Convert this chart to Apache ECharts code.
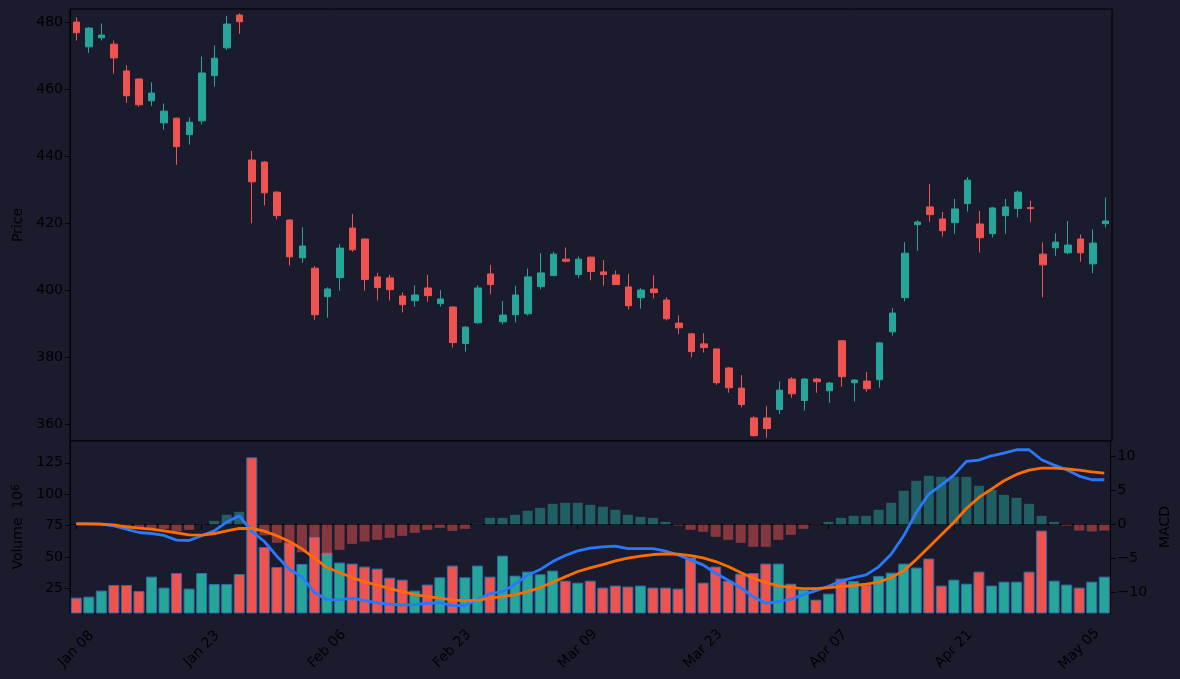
<!DOCTYPE html>
<html>
<head>
<meta charset="utf-8">
<script src="https://cdn.jsdelivr.net/npm/echarts@6/dist/echarts.min.js"></script>
<style>
  html, body { margin: 0; padding: 0; background: #1b1b2e; }
  #chart { width: 1180px; height: 679px; }
</style>
</head>
<body>
<div id="chart"></div>
<script>
'use strict';

var dates = [
    'Jan 08', 'Jan 09', 'Jan 10', 'Jan 11', 'Jan 12', 'Jan 15', 'Jan 16', 'Jan 17', 'Jan 18', 'Jan 22',
    'Jan 23', 'Jan 24', 'Jan 25', 'Jan 26', 'Jan 29', 'Jan 30', 'Jan 31', 'Feb 01', 'Feb 02', 'Feb 05',
    'Feb 06', 'Feb 07', 'Feb 08', 'Feb 12', 'Feb 13', 'Feb 14', 'Feb 15', 'Feb 16', 'Feb 20', 'Feb 21',
    'Feb 23', 'Feb 26', 'Feb 27', 'Feb 28', 'Feb 29', 'Mar 01', 'Mar 04', 'Mar 05', 'Mar 06', 'Mar 07',
    'Mar 09', 'Mar 11', 'Mar 12', 'Mar 13', 'Mar 14', 'Mar 15', 'Mar 18', 'Mar 19', 'Mar 20', 'Mar 21',
    'Mar 23', 'Mar 25', 'Mar 26', 'Mar 27', 'Mar 28', 'Apr 01', 'Apr 02', 'Apr 03', 'Apr 04', 'Apr 05',
    'Apr 07', 'Apr 08', 'Apr 09', 'Apr 10', 'Apr 11', 'Apr 12', 'Apr 15', 'Apr 16', 'Apr 17', 'Apr 18',
    'Apr 21', 'Apr 22', 'Apr 23', 'Apr 24', 'Apr 25', 'Apr 26', 'Apr 29', 'Apr 30', 'May 01', 'May 02',
    'May 05', 'May 06', 'May 07'
];

var opens = [
    480.1, 472.7, 475.4, 473.5, 465.5, 463.1, 456.6, 450.0, 451.4, 446.5,
    450.6, 464.1, 472.4, 482.2, 438.9, 438.3, 429.3, 421.0, 409.7, 406.6,
    398.1, 403.8, 418.6, 415.3, 404.0, 403.7, 398.3, 396.9, 400.7, 396.0,
    395.0, 384.1, 390.3, 404.9, 390.6, 392.7, 393.0, 401.1, 404.4, 409.3,
    404.7, 409.9, 405.5, 404.6, 401.0, 397.8, 400.4, 397.1, 390.2, 387.0,
    384.0, 382.5, 376.8, 370.8, 361.9, 361.9, 364.4, 373.5, 367.1, 373.5,
    370.0, 384.9, 372.4, 372.9, 373.3, 387.6, 397.8, 419.6, 424.9, 421.3,
    420.2, 425.9, 419.8, 416.9, 422.3, 424.4, 424.7, 410.8, 412.7, 411.2,
    415.3, 407.9, 419.9
];
var closes = [
    476.9, 478.3, 476.2, 469.4, 458.1, 455.4, 458.9, 453.5, 442.9, 450.2,
    464.9, 469.3, 479.5, 480.2, 432.4, 429.1, 422.3, 410.0, 413.2, 392.7,
    400.4, 412.6, 412.1, 403.2, 400.8, 400.2, 395.7, 398.6, 398.4, 397.4,
    384.4, 389.0, 400.7, 401.7, 392.6, 398.6, 404.0, 405.2, 410.8, 408.7,
    409.3, 405.6, 404.7, 401.7, 395.4, 400.1, 399.3, 391.5, 388.8, 381.7,
    382.9, 372.4, 370.9, 365.9, 356.6, 358.7, 370.2, 369.1, 373.5, 372.7,
    372.3, 374.2, 373.2, 370.6, 384.3, 393.2, 411.1, 420.4, 422.6, 417.8,
    424.3, 432.9, 415.7, 424.6, 424.9, 429.3, 424.4, 407.6, 414.4, 413.5,
    411.2, 414.1, 420.7
];
var highs = [
    481.5, 478.6, 479.7, 474.6, 467.2, 463.2, 462.1, 455.8, 451.6, 451.6,
    469.8, 473.1, 481.9, 482.7, 441.6, 438.6, 429.6, 421.1, 418.8, 407.2,
    400.9, 413.8, 422.8, 415.5, 405.2, 404.6, 399.4, 401.5, 404.6, 400.1,
    395.3, 389.3, 401.5, 407.6, 396.8, 401.3, 406.5, 411.1, 411.5, 412.8,
    410.1, 410.1, 409.0, 405.9, 404.9, 400.6, 404.5, 397.9, 392.5, 387.1,
    387.2, 382.6, 377.1, 374.7, 362.4, 365.4, 372.8, 374.1, 373.8, 373.8,
    372.6, 385.2, 373.5, 375.6, 384.6, 394.7, 414.4, 420.9, 431.7, 423.4,
    427.3, 433.8, 423.7, 424.9, 427.3, 429.8, 426.8, 414.3, 417.0, 420.7,
    416.7, 418.2, 427.7
];
var lows = [
    474.6, 470.9, 474.6, 464.7, 456.0, 454.8, 455.1, 448.0, 437.5, 443.5,
    449.5, 460.8, 471.8, 476.6, 420.0, 425.3, 421.2, 407.4, 408.2, 391.2,
    391.8, 399.9, 411.5, 399.9, 397.0, 397.0, 393.4, 395.1, 396.6, 395.1,
    382.9, 381.7, 390.0, 398.8, 389.8, 390.4, 392.5, 400.3, 404.3, 408.3,
    403.6, 403.0, 401.4, 401.6, 394.3, 394.5, 397.6, 391.0, 386.9, 380.0,
    381.4, 371.8, 369.4, 365.0, 356.3, 356.0, 363.0, 367.9, 364.1, 369.4,
    366.4, 371.2, 366.8, 369.7, 370.9, 386.5, 396.7, 411.8, 420.5, 416.1,
    416.9, 423.5, 411.3, 415.8, 416.9, 421.8, 420.3, 397.9, 410.3, 410.7,
    408.5, 405.1, 418.8
];

// volume in millions
var volumes = [
    17.8, 18.6, 23.4, 27.9, 27.9, 23.1, 34.5, 25.8, 37.4, 25.0,
    37.4, 28.7, 28.7, 36.6, 129.3, 58.1, 42.2, 61.6, 44.6, 66.1,
    53.6, 45.7, 44.9, 42.5, 40.9, 33.7, 32.1, 23.4, 28.2, 34.0,
    43.3, 34.0, 43.3, 34.5, 51.2, 35.3, 38.5, 36.4, 39.3, 31.3,
    29.7, 31.3, 25.8, 27.4, 26.6, 27.4, 25.8, 25.8, 25.0, 49.7,
    29.7, 42.5, 31.3, 36.9, 37.4, 44.9, 44.9, 28.9, 24.2, 16.2,
    21.0, 32.9, 31.0, 28.2, 35.1, 37.7, 44.9, 41.7, 48.9, 27.4,
    32.1, 28.9, 38.5, 27.4, 30.5, 30.5, 38.5, 71.1, 31.3, 28.2,
    25.8, 30.5, 34.5
];

var macdLine = [
    0.1, 0.1, 0.05, -0.2, -0.69, -1.18, -1.33, -1.62, -2.31, -2.36,
    -1.67, -0.94, 0.34, 1.3, -1.0, -2.51, -4.68, -6.6, -7.73, -10.04,
    -11.1, -11.13, -10.88, -11.23, -11.57, -11.77, -11.87, -11.82, -11.62, -11.52,
    -11.96, -11.96, -11.08, -10.19, -9.9, -8.81, -7.48, -6.65, -5.47, -4.58,
    -3.89, -3.5, -3.3, -3.2, -3.55, -3.55, -3.55, -3.94, -4.48, -5.22,
    -5.96, -7.19, -8.22, -9.31, -10.68, -11.62, -11.37, -11.03, -10.34, -9.75,
    -9.11, -8.32, -7.83, -7.43, -6.25, -4.38, -1.67, 1.77, 4.48, 5.81,
    7.29, 9.31, 9.5, 10.14, 10.54, 11.03, 11.03, 9.55, 8.76, 8.07,
    7.14, 6.6, 6.6
];
var signalLine = [
    0.1, 0.1, 0.05, -0.05, -0.34, -0.54, -0.69, -0.94, -1.23, -1.53,
    -1.58, -1.33, -0.94, -0.59, -0.59, -0.98, -1.67, -2.51, -3.6, -4.97,
    -6.35, -7.09, -7.83, -8.47, -8.96, -9.45, -9.9, -10.34, -10.64, -10.88,
    -11.13, -11.28, -11.18, -10.88, -10.64, -10.34, -9.9, -9.31, -8.52, -7.73,
    -6.94, -6.4, -5.91, -5.37, -4.97, -4.68, -4.43, -4.33, -4.38, -4.58,
    -4.92, -5.47, -6.2, -7.09, -7.93, -8.57, -9.06, -9.31, -9.45, -9.45,
    -9.31, -9.16, -9.0, -8.81, -8.52, -7.83, -6.84, -5.17, -3.35, -1.53,
    0.3, 2.36, 3.99, 5.22, 6.45, 7.39, 8.03, 8.32, 8.32, 8.22,
    8.03, 7.78, 7.58
];
var histValues = [
    0, 0, 0, -0.15, -0.35, -0.54, -0.54, -0.64, -1.03, -0.79,
    -0.05, 0.54, 1.43, 1.87, -0.3, -1.6, -2.7, -4.0, -4.1, -5.0,
    -4.63, -3.74, -2.86, -2.51, -2.26, -1.97, -1.67, -1.23, -0.79, -0.49,
    -0.94, -0.64, 0.1, 0.98, 0.98, 1.43, 2.02, 2.46, 3.05, 3.2,
    3.2, 2.9, 2.61, 2.17, 1.43, 1.13, 0.98, 0.39, -0.15, -0.79,
    -1.08, -1.82, -2.26, -2.71, -3.3, -3.3, -2.26, -1.53, -0.64, -0.05,
    0.39, 0.98, 1.28, 1.28, 2.17, 3.2, 4.97, 6.45, 7.19, 7.04,
    7.04, 7.04, 5.71, 5.12, 4.38, 3.94, 3.05, 1.28, 0.39, -0.15,
    -0.89, -1.03, -0.89
];

var priceTicks = [360, 380, 400, 420, 440, 460, 480];
var volumeTicks = [25, 50, 75, 100, 125];
var macdTicks = [-10, -5, 0, 5, 10];

var upColor = '#26a69a';
var downColor = '#ef5350';
var font = 'DejaVu Sans';

var candleData = opens.map(function (o, i) {
    return [o, closes[i], lows[i], highs[i]];
});
var volumeData = volumes.map(function (v, i) {
    return { value: v, itemStyle: { color: closes[i] >= opens[i] ? upColor : downColor } };
});
var histData = histValues.map(function (h) {
    return { value: h, itemStyle: { color: h >= 0 ? upColor : downColor } };
});

var labelStyle = { color: '#000', fontSize: 14, fontFamily: font };
var tickStyle = { show: true, length: 5, lineStyle: { color: '#000' } };

var myChart = echarts.init(document.getElementById('chart'));
var option = {
    animation: false,
    backgroundColor: '#1b1b2e',
    grid: [
        { left: 70, top: 9, width: 1042, height: 432, show: true, borderColor: '#000', borderWidth: 1, backgroundColor: '#1b1b2e' },
        { left: 70, top: 441, width: 1042, height: 172, show: true, borderColor: '#000', borderWidth: 1, backgroundColor: '#1b1b2e' }
    ],
    xAxis: [
        {
            type: 'category', gridIndex: 0, data: dates,
            axisLine: { show: false }, axisTick: { show: false }, axisLabel: { show: false }
        },
        {
            type: 'category', gridIndex: 1, data: dates,
            axisLine: { lineStyle: { color: '#000' } },
            axisTick: { show: true, interval: 9, alignWithLabel: true, length: 5, lineStyle: { color: '#000' } },
            axisLabel: Object.assign({ interval: 9, rotate: 45, align: 'center', verticalAlign: 'middle', margin: 36 }, labelStyle)
        },
        { type: 'category', gridIndex: 1, data: dates, show: false }
    ],
    yAxis: [
        {
            type: 'value', gridIndex: 0, min: 355, max: 484, position: 'left',
            name: 'Price', nameLocation: 'middle', nameGap: 41, nameTextStyle: labelStyle,
            splitLine: { show: false },
            axisLine: { show: true, lineStyle: { color: '#000' } },
            axisTick: Object.assign({ customValues: priceTicks }, tickStyle),
            axisLabel: Object.assign({ customValues: priceTicks, margin: 7 }, labelStyle)
        },
        {
            type: 'value', gridIndex: 1, min: 5.6, max: 142.3, position: 'left',
            name: 'Volume  10{s|6}', nameLocation: 'middle', nameGap: 43,
            nameTextStyle: Object.assign({ rich: { s: { fontSize: 10, fontFamily: font, color: '#000', verticalAlign: 'top', lineHeight: 12 } } }, labelStyle),
            splitLine: { show: false },
            axisLine: { show: true, lineStyle: { color: '#000' } },
            axisTick: Object.assign({ customValues: volumeTicks }, tickStyle),
            axisLabel: Object.assign({ customValues: volumeTicks, margin: 7 }, labelStyle)
        },
        {
            type: 'value', gridIndex: 1, min: -13.06, max: 12.32, position: 'right',
            name: 'MACD', nameLocation: 'middle', nameGap: 44, nameTextStyle: labelStyle,
            splitLine: { show: false },
            axisLine: { show: true, lineStyle: { color: '#000' } },
            axisTick: Object.assign({ customValues: macdTicks }, tickStyle),
            axisLabel: Object.assign({
                customValues: macdTicks, margin: 7,
                formatter: function (v) { return v < 0 ? '\u2212' + Math.abs(v) : String(v); }
            }, labelStyle)
        }
    ],
    series: [
        {
            type: 'candlestick', xAxisIndex: 0, yAxisIndex: 0,
            data: candleData, barWidth: 7,
            itemStyle: { color: upColor, color0: downColor, borderColor: upColor, borderColor0: downColor, borderWidth: 1 }
        },
        {
            type: 'bar', xAxisIndex: 1, yAxisIndex: 1, z: 2,
            data: volumeData, barWidth: 11,
            itemStyle: { borderColor: '#2b6ea8', borderWidth: 1 }
        },
        {
            type: 'bar', xAxisIndex: 2, yAxisIndex: 2, z: 3,
            data: histData, barWidth: 10,
            itemStyle: { opacity: 0.5 }
        },
        {
            type: 'line', xAxisIndex: 2, yAxisIndex: 2, z: 4,
            data: macdLine, showSymbol: false,
            lineStyle: { color: '#2979ff', width: 2.8 }
        },
        {
            type: 'line', xAxisIndex: 2, yAxisIndex: 2, z: 5,
            data: signalLine, showSymbol: false,
            lineStyle: { color: '#ff6d00', width: 2.8 }
        }
    ]
};
myChart.setOption(option);

window.onresize = function () {
    myChart.resize();
};
</script>
</body>
</html>
